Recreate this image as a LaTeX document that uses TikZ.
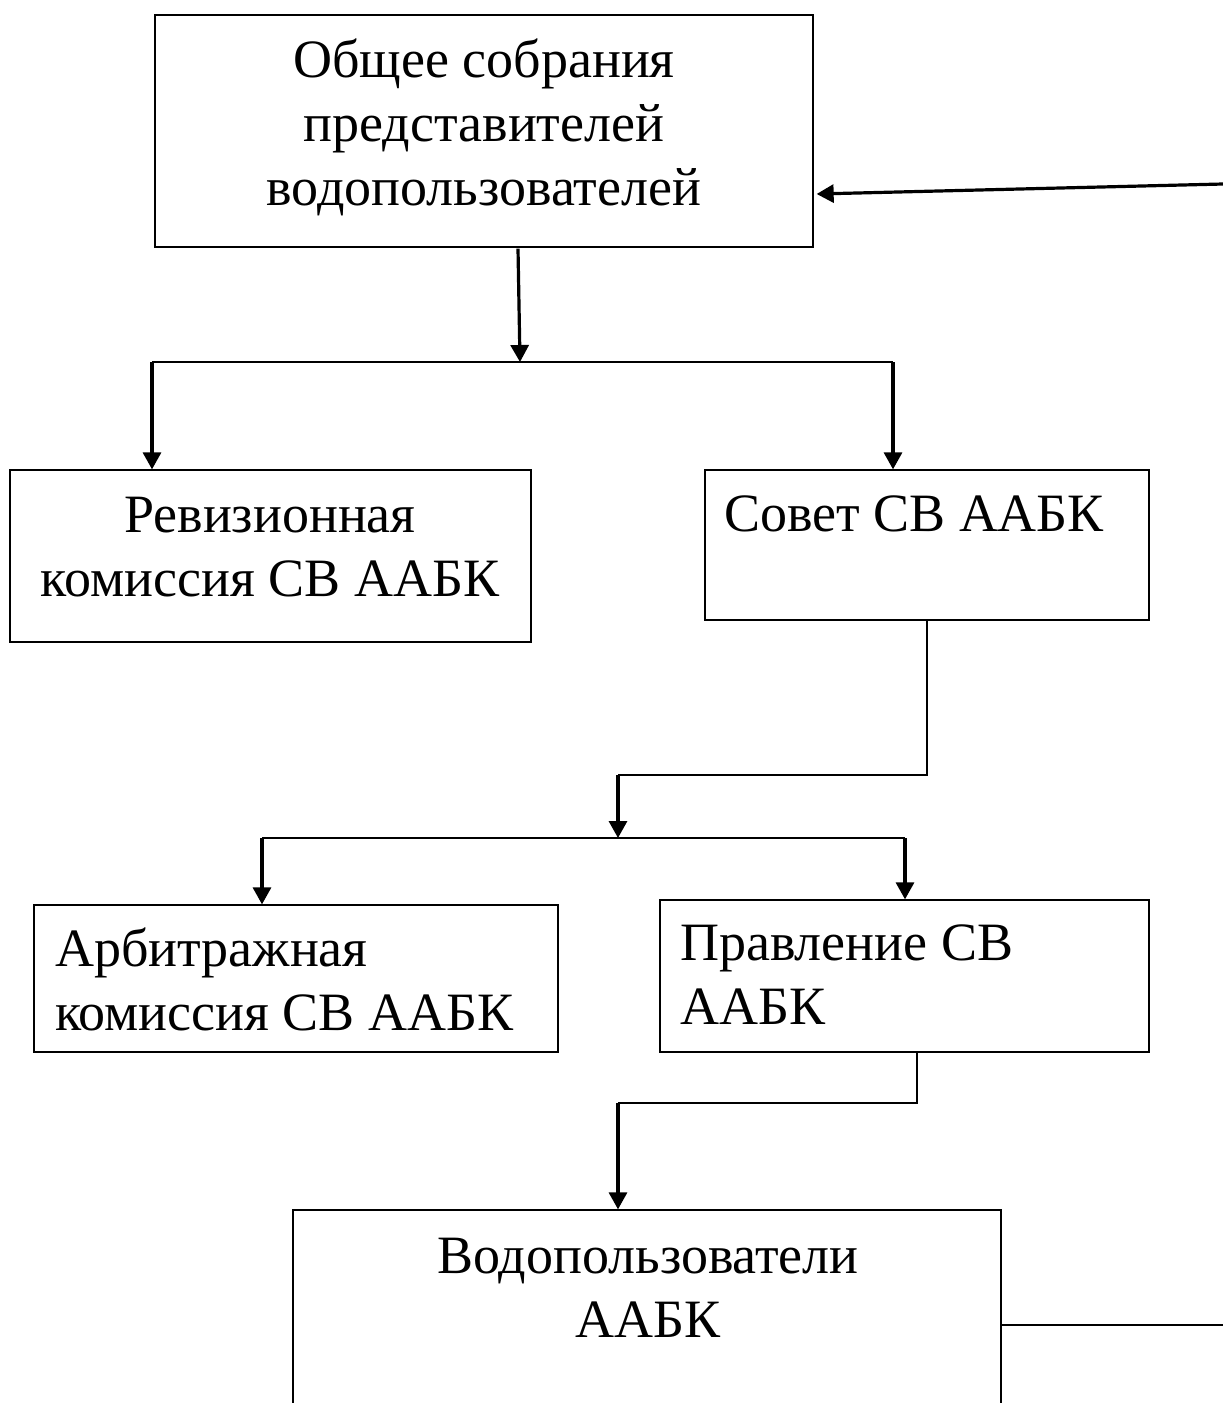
\documentclass[tikz,border=0pt]{standalone}
\usepackage{fontspec}
\setmainfont{Liberation Serif}
\usetikzlibrary{arrows.meta}
\begin{document}
\begin{tikzpicture}[x=1pt,y=-1pt,
  box/.style={draw,line width=1.3pt,inner sep=0pt,rectangle},
  txt/.style={inner sep=0pt,font=\fontsize{54}{64}\selectfont},
  arr/.style={line width=3.2pt,-{Triangle[length=17pt,width=18pt]}},
  ln/.style={line width=1.5pt}]
\useasboundingbox (0,0) rectangle (1223,1403);
\clip (0,0) rectangle (1223,1403);
% boxes
\node[box,minimum width=658pt,minimum height=232pt] (gen) at (484,131) {};
\node[box,minimum width=521pt,minimum height=172pt] (rev) at (270.5,556) {};
\node[box,minimum width=444pt,minimum height=150pt] (sov) at (927,545) {};
\node[box,minimum width=524pt,minimum height=147pt] (arb) at (296,978.5) {};
\node[box,minimum width=489pt,minimum height=152pt] (prav) at (904.5,976) {};
\node[box,minimum width=708pt,minimum height=240pt] (vodo) at (647,1330) {};
% texts
\node[txt,align=center] (tgen) at (484,127) {Общее собрания\\представителей\\водопользователей};
\node[txt,align=center] (trev) at (270,547) {Ревизионная\\комиссия СВ ААБК};
\node[txt,anchor=west] (tsov) at (724,514) {Совет СВ ААБК};
\node[txt,align=left,anchor=west] (tarb) at (55,979) {Арбитражная\\комиссия СВ ААБК};
\node[txt,align=left,anchor=west] (tprav) at (680,975) {Правление СВ\\ААБК};
\node[txt,align=center] (tvodo) at (648,1288) {Водопользователи\\ААБК};
% coordinates
\coordinate (r1) at (1223,184);
\coordinate (j1) at (520,362);
\coordinate (j1l) at (152,362);
\coordinate (j1r) at (893,362);
\coordinate (s1) at (927,775);
\coordinate (s2) at (618,775);
\coordinate (j2) at (618,838);
\coordinate (j2l) at (262,838);
\coordinate (j2r) at (905,838);
\coordinate (p1) at (917,1103);
\coordinate (p2) at (618,1103);
\coordinate (r2) at (1223,1325);
% connectors
\draw[arr] (r1) -- ([xshift=3pt,yshift=-63pt]gen.east);
\draw[arr] ([xshift=34pt,yshift=-1pt]gen.south) -- (j1);
\draw[ln] (j1l) -- (j1r);
\draw[arr] (j1l) -- (j1l |- rev.north);
\draw[arr] (j1r) -- (j1r |- sov.north);
\draw[ln] (s1 |- sov.south) -- (s1) -- (s2);
\draw[arr] (s2) -- (j2);
\draw[ln] (j2l) -- (j2r);
\draw[arr] (j2l) -- (j2l |- arb.north);
\draw[arr] (j2r) -- (j2r |- prav.north);
\draw[ln] (p1 |- prav.south) -- (p1) -- (p2);
\draw[arr] (p2) -- (p2 |- vodo.north);
\draw[ln] (vodo.east |- r2) -- (r2);
\end{tikzpicture}
\end{document}
